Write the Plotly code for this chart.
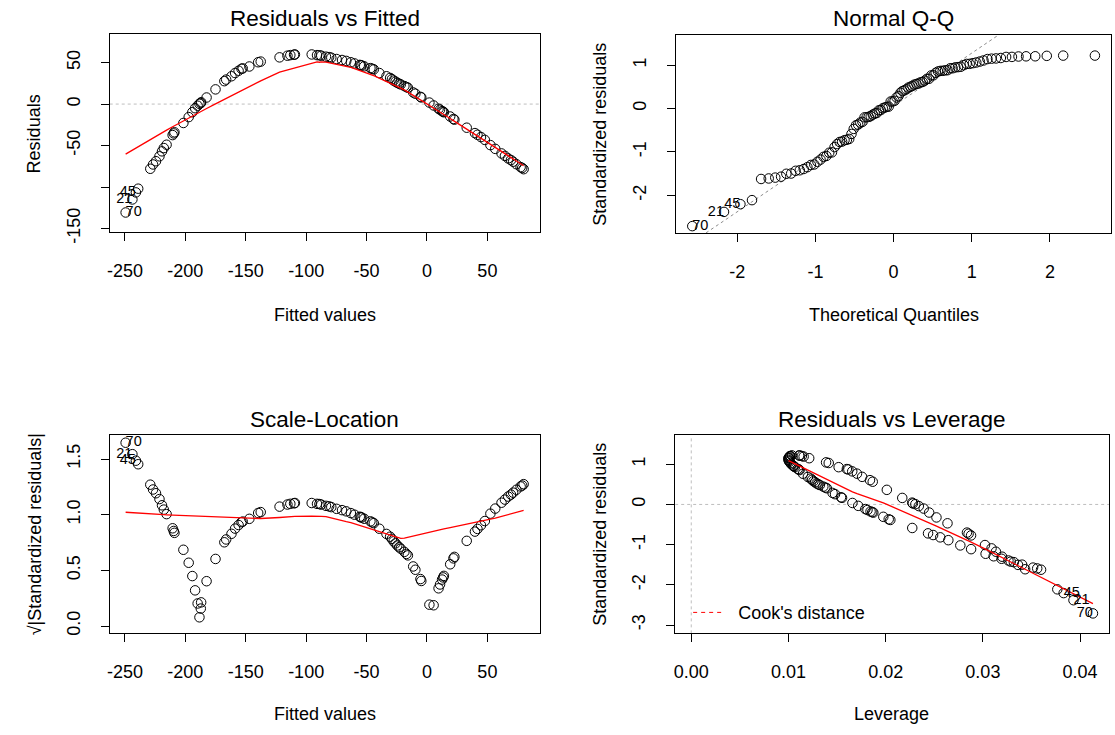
import numpy as np
import plotly.graph_objects as go
from statistics import NormalDist

fitted = [-249.4, -243.8, -240.9, -239.0, -229.0, -226.7, -224.3, -221.4, -219.3, -217.8,
          -215.5, -210.5, -209.6, -209.0, -201.6, -197.2, -194.2, -191.9, -189.8, -188.3,
          -187.2, -186.9, -182.4, -175.0, -167.7, -166.2, -161.8, -158.8, -155.9, -153.5,
          -152.5, -147.0, -139.7, -137.6, -122.0, -115.5, -113.1, -110.0, -109.3, -95.4,
          -91.0, -89.0, -87.5, -83.6, -81.0, -79.2, -74.8, -70.3, -66.8, -63.0,
          -60.0, -55.6, -54.8, -54.1, -52.0, -46.8, -45.3, -44.0, -39.4, -33.5,
          -30.5, -29.0, -27.6, -26.0, -24.6, -23.0, -21.7, -18.7, -17.0, -15.8,
          -11.4, -9.6, -5.4, -4.7, 2.0, 5.5, 9.6, 10.8, 12.5, 13.4,
          14.0, 19.2, 21.9, 22.7, 32.9, 39.7, 41.8, 44.7, 47.9, 52.5,
          56.5, 61.7, 64.5, 67.2, 69.5, 71.3, 74.0, 77.5, 78.8, 80.0]
residuals = [-130.7, -115.0, -106.5, -102.0, -78.0, -72.8, -68.9, -63.0, -57.0, -53.0,
             -49.0, -37.4, -35.4, -34.0, -22.8, -15.7, -9.8, -5.0, -2.0, 0.3,
             1.2, 2.2, 7.9, 17.7, 27.6, 29.5, 33.5, 37.4, 40.2, 42.5,
             43.0, 45.3, 50.4, 51.2, 56.3, 58.3, 59.0, 59.5, 59.8, 59.8,
             59.0, 58.8, 58.3, 57.1, 56.6, 55.9, 54.3, 53.1, 52.0, 50.4,
             49.0, 47.2, 46.8, 46.5, 45.5, 43.3, 42.5, 41.8, 37.4, 33.5,
             31.5, 30.0, 28.3, 27.0, 25.6, 24.5, 23.6, 21.7, 20.5, 19.7,
             14.0, 12.5, 8.7, 8.0, 1.8, -1.7, -5.6, -6.8, -8.5, -9.3,
             -9.9, -15.0, -18.0, -18.8, -28.5, -35.0, -37.0, -39.8, -43.2, -49.5,
             -54.0, -59.5, -62.5, -65.5, -67.5, -69.5, -72.5, -76.0, -77.0, -78.5]
# observation numbers of the three most extreme residuals (largest first)
extreme_ids = ["70", "21", "45"]

# tick values / labels
p1_xticks = [-250, -200, -150, -100, -50, 0, 50]
p1_yticks = [-150, -100, -50, 0, 50]
p1_ylabels = ["-150", "", "-50", "0", "50"]
p2_xticks = [-2, -1, 0, 1, 2]
p2_yticks = [-2, -1, 0, 1]
p3_yticks = [0.0, 0.5, 1.0, 1.5]
p3_ylabels = ["0.0", "0.5", "1.0", "1.5"]
p4_xticks = [0.0, 0.01, 0.02, 0.03, 0.04]
p4_xlabels = ["0.00", "0.01", "0.02", "0.03", "0.04"]
p4_yticks = [-3, -2, -1, 0, 1]
cook_levels = [0.5, 1.0]

# ---- lm diagnostics computed from the data ----
f = np.array(fitted, float)
r = np.array(residuals, float)
n = len(f)
p = 2
sigma = np.sqrt(np.sum(r ** 2) / (n - p))
fc = f - f.mean()
hii = 1.0 / n + fc ** 2 / np.sum(fc ** 2)
rs = r / (sigma * np.sqrt(1 - hii))
sabs = np.sqrt(np.abs(rs))
nd = NormalDist()
ranks = np.argsort(np.argsort(rs, kind="stable"), kind="stable")
theo = np.array([nd.inv_cdf((k + 0.5) / n) for k in ranks])
ext = list(np.argsort(-np.abs(r))[:3])


def lowess(x, y, frac=2 / 3, it=3):
    x = np.asarray(x, float)
    y = np.asarray(y, float)
    o = np.argsort(x, kind="stable")
    xs, ys = x[o], y[o]
    m = len(xs)
    ns = max(min(int(frac * m + 1e-7), m), 2)
    rw = np.ones(m)
    fit = np.zeros(m)
    rng = xs[-1] - xs[0]
    for itn in range(it + 1):
        for i in range(m):
            d = np.abs(xs - xs[i])
            h = np.sort(d)[ns - 1]
            w = np.zeros(m)
            sel = d <= 0.999 * h
            w[sel] = np.where(d[sel] <= 0.001 * h, 1.0, (1 - (d[sel] / h) ** 3) ** 3)
            w = w * rw
            if w.sum() <= 0:
                fit[i] = ys[i]
                continue
            w = w / w.sum()
            a = np.sum(w * xs)
            b = xs[i] - a
            c = np.sum(w * (xs - a) ** 2)
            if np.sqrt(c) > 0.001 * rng:
                w = w * (b / c * (xs - a) + 1)
            fit[i] = np.sum(w * ys)
        if itn == it:
            break
        res = ys - fit
        cmad = 6 * np.median(np.abs(res))
        if cmad < 1e-7 * np.mean(np.abs(ys)):
            break
        u = np.abs(res) / cmad
        rw = np.where(u <= 0.001, 1.0, np.where(u <= 0.999, (1 - u ** 2) ** 2, 0.0))
    return xs, fit


def pad(lo, hi, fr=0.04):
    d = (hi - lo) * fr
    return [lo - d, hi + d]


def extend(lo, hi, fr=0.08):
    d = (hi - lo) * fr
    return lo - d, hi + d


# axis ranges (R conventions)
r1x = pad(f.min(), f.max())
r1y = pad(*extend(r.min(), r.max()))
lo2, hi2 = rs.min(), rs.max()
hi2 = hi2 + 0.075 * (hi2 - lo2)
r2x = pad(theo.min(), theo.max())
r2y = pad(lo2, hi2)
r3x = pad(f.min(), f.max())
r3y = pad(0.0, sabs.max())
r4x = pad(0.0, hii.max())
r4y = pad(*extend(rs.min(), rs.max()))

# qq line through quartiles
q1, q3 = np.quantile(rs, [0.25, 0.75])
t1, t3 = nd.inv_cdf(0.25), nd.inv_cdf(0.75)
slope = (q3 - q1) / (t3 - t1)
icpt = q1 - slope * t1

FONT = "Liberation Sans, Arial, Helvetica, sans-serif"
W, H = 1115, 735
PT_MARK = dict(symbol="circle-open", size=9.5, color="black", line=dict(width=1))
RED = dict(color="red", width=1.3)

fig = go.Figure()


def pts(x, y, k):
    fig.add_trace(go.Scatter(x=x, y=y, mode="markers", marker=PT_MARK, xaxis="x" + k, yaxis="y" + k,
                             showlegend=False, hoverinfo="skip"))


def smooth(x, y, k):
    xs, ys = lowess(x, y)
    fig.add_trace(go.Scatter(x=xs, y=ys, mode="lines", line=RED, xaxis="x" + k, yaxis="y" + k,
                             showlegend=False, hoverinfo="skip"))


def labels(x, y, k, positions):
    fig.add_trace(go.Scatter(x=[x[i] for i in ext], y=[y[i] for i in ext], mode="text",
                             text=extreme_ids, textposition=positions,
                             textfont=dict(family=FONT, size=14.5, color="black"),
                             xaxis="x" + k, yaxis="y" + k, showlegend=False, hoverinfo="skip",
                             cliponaxis=False))


def refline(x, y, k, dash="dot", color="#bebebe"):
    fig.add_trace(go.Scatter(x=x, y=y, mode="lines", line=dict(color=color, width=1, dash=dash),
                             xaxis="x" + k, yaxis="y" + k, showlegend=False, hoverinfo="skip"))


# panel 1 Residuals vs Fitted
refline(r1x, [0, 0], "")
pts(f, r, "")
smooth(f, r, "")
labels(f, r, "", ["middle right", "middle left", "middle left"])

# panel 2 Normal Q-Q
refline(r2x, [icpt + slope * r2x[0], icpt + slope * r2x[1]], "2", color="#8c8c8c")
pts(theo, rs, "2")
labels(theo, rs, "2", ["middle right", "middle left", "middle left"])

# panel 3 Scale-Location
pts(f, sabs, "3")
smooth(f, sabs, "3")
labels(f, sabs, "3", ["middle right", "middle left", "middle left"])

# panel 4 Residuals vs Leverage
refline(r4x, [0, 0], "4")
refline([0, 0], r4y, "4")
pts(hii, rs, "4")
smooth(hii, rs, "4")
labels(hii, rs, "4", ["middle left", "middle right", "middle right"])
hh = np.linspace(0.0005, r4x[1], 101)
cx, cy = [], []
for lev in cook_levels:
    cl = np.sqrt(lev * p * (1 - hh) / hh)
    cx += list(hh) + [None] + list(hh) + [None]
    cy += list(cl) + [None] + list(-cl) + [None]
fig.add_trace(go.Scatter(x=cx, y=cy, mode="lines", name="\u00a0\u00a0Cook's distance",
                         line=dict(color="red", width=1, dash="4px,4px"),
                         xaxis="x4", yaxis="y4", showlegend=True, hoverinfo="skip"))


def xd(a, b):
    return [a / W, b / W]


def yd(top, bottom):
    return [1 - bottom / H, 1 - top / H]


def axis(domain, rng, tickvals, ticktext, anchor, is_y=False):
    d = dict(domain=domain, range=rng, tickvals=tickvals, ticktext=ticktext, anchor=anchor,
             showgrid=False, zeroline=False, showline=True, mirror=True, linecolor="black",
             linewidth=1, ticks="outside", ticklen=8, tickcolor="black", tickwidth=1,
             tickfont=dict(family=FONT, size=18, color="black"),
             ticklabelstandoff=14)
    if is_y:
        d["tickangle"] = -90
    return d


P1 = (107, 538, 35, 236)
P2 = (675, 1111, 36, 237)
P3 = (107, 538, 442, 643)
P4 = (674, 1109, 442, 643)

fig.update_layout(
    width=W, height=H, margin=dict(l=0, r=0, t=0, b=0),
    paper_bgcolor="white", plot_bgcolor="white",
    font=dict(family=FONT, size=18, color="black"),
    xaxis=axis(xd(P1[0], P1[1]), r1x, p1_xticks, [str(v) for v in p1_xticks], "y"),
    yaxis=axis(yd(P1[2], P1[3]), r1y, p1_yticks, p1_ylabels, "x", True),
    xaxis2=axis(xd(P2[0], P2[1]), r2x, p2_xticks, [str(v) for v in p2_xticks], "y2"),
    yaxis2=axis(yd(P2[2], P2[3]), r2y, p2_yticks, [str(v) for v in p2_yticks], "x2", True),
    xaxis3=axis(xd(P3[0], P3[1]), r3x, p1_xticks, [str(v) for v in p1_xticks], "y3"),
    yaxis3=axis(yd(P3[2], P3[3]), r3y, p3_yticks, p3_ylabels, "x3", True),
    xaxis4=axis(xd(P4[0], P4[1]), r4x, p4_xticks, p4_xlabels, "y4"),
    yaxis4=axis(yd(P4[2], P4[3]), r4y, p4_yticks, [str(v) for v in p4_yticks], "x4", True),
    legend=dict(x=687 / W, y=1 - 622 / H, xanchor="left", yanchor="middle",
                bgcolor="rgba(0,0,0,0)", font=dict(family=FONT, size=18, color="black"),
                itemwidth=30, borderwidth=0),
)


def ann(text, xpx, ypx, size=18, angle=0):
    fig.add_annotation(text=text, x=xpx / W, y=1 - ypx / H, xref="paper", yref="paper",
                       showarrow=False, xanchor="center", yanchor="middle", textangle=angle,
                       font=dict(family=FONT, size=size, color="black"))


ann("Residuals vs Fitted", 322.5, 19, 22.5)
ann("Normal Q-Q", 893, 19, 22.5)
ann("Scale-Location", 322.5, 426, 22.5)
ann("Residuals vs Leverage", 891, 426, 22.5)
ann("Fitted values", 322.5, 320)
ann("Theoretical Quantiles", 893, 320)
ann("Fitted values", 322.5, 725)
ann("Leverage", 891, 725)
ann("Residuals", 32, 135.5, angle=-90)
ann("Standardized residuals", 599, 136.5, angle=-90)
ann("√|Standardized residuals|", 32, 542.5, angle=-90)
ann("Standardized residuals", 599, 542.5, angle=-90)

fig.write_html("out.html", config={"displayModeBar": False},
               post_script="document.body.style.margin='0px';document.body.style.overflow='hidden';")
